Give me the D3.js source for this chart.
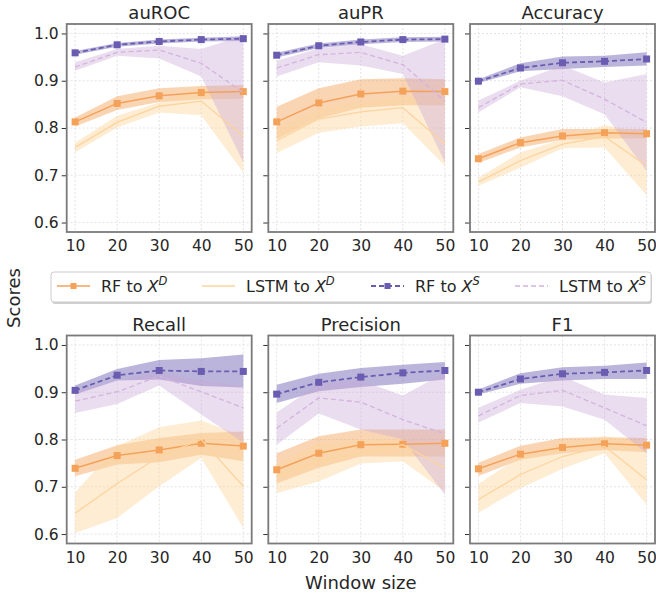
<!DOCTYPE html>
<html>
<head>
<meta charset="utf-8">
<script src="https://cdn.jsdelivr.net/npm/d3@7"></script>
<style>
  body { margin: 0; background: #fff; }
  svg { display: block; font-family: "DejaVu Sans", sans-serif; }
</style>
</head>
<body>
<svg id="chart" width="656" height="599"></svg>
<script>
const windows = [10, 20, 30, 40, 50];
const metrics = ["auROC", "auPR", "Accuracy", "Recall", "Precision", "F1"];
const yTicks = [0.6, 0.7, 0.8, 0.9, 1.0];

// RF to X^D
const rfD = [
  [0.813, 0.852, 0.868, 0.875, 0.877],
  [0.813, 0.853, 0.872, 0.878, 0.877],
  [0.735, 0.769, 0.783, 0.790, 0.788],
  [0.739, 0.766, 0.778, 0.792, 0.786],
  [0.736, 0.771, 0.789, 0.790, 0.792],
  [0.738, 0.769, 0.783, 0.791, 0.788]
];
const rfD_lo = [
  [0.803, 0.838, 0.855, 0.861, 0.862],
  [0.776, 0.820, 0.843, 0.848, 0.848],
  [0.726, 0.759, 0.775, 0.778, 0.778],
  [0.722, 0.747, 0.752, 0.768, 0.754],
  [0.707, 0.740, 0.764, 0.764, 0.764],
  [0.723, 0.757, 0.771, 0.778, 0.773]
];
const rfD_hi = [
  [0.822, 0.867, 0.884, 0.889, 0.891],
  [0.845, 0.884, 0.903, 0.905, 0.903],
  [0.745, 0.780, 0.798, 0.798, 0.798],
  [0.757, 0.788, 0.803, 0.814, 0.817],
  [0.771, 0.807, 0.821, 0.821, 0.821],
  [0.751, 0.787, 0.803, 0.805, 0.803]
];

// LSTM to X^D
const lstmD = [
  [0.759, 0.812, 0.846, 0.857, 0.783],
  [0.773, 0.819, 0.834, 0.843, 0.766],
  [0.686, 0.731, 0.766, 0.782, 0.720],
  [0.644, 0.707, 0.764, 0.800, 0.701],
  [0.722, 0.754, 0.771, 0.789, 0.740],
  [0.673, 0.726, 0.764, 0.786, 0.715]
];
const lstmD_lo = [
  [0.748, 0.801, 0.833, 0.827, 0.706],
  [0.747, 0.790, 0.803, 0.810, 0.720],
  [0.678, 0.716, 0.757, 0.759, 0.658],
  [0.602, 0.634, 0.701, 0.761, 0.613],
  [0.687, 0.711, 0.749, 0.754, 0.690],
  [0.645, 0.697, 0.738, 0.771, 0.662]
];
const lstmD_hi = [
  [0.769, 0.826, 0.854, 0.886, 0.860],
  [0.801, 0.841, 0.857, 0.869, 0.861],
  [0.695, 0.748, 0.776, 0.806, 0.790],
  [0.688, 0.786, 0.826, 0.840, 0.807],
  [0.747, 0.793, 0.800, 0.800, 0.789],
  [0.706, 0.764, 0.793, 0.807, 0.793]
];

// RF to X^S
const rfS = [
  [0.959, 0.976, 0.983, 0.987, 0.989],
  [0.954, 0.974, 0.982, 0.987, 0.988],
  [0.899, 0.927, 0.938, 0.941, 0.946],
  [0.904, 0.936, 0.946, 0.944, 0.944],
  [0.896, 0.921, 0.932, 0.941, 0.946],
  [0.900, 0.928, 0.939, 0.942, 0.946]
];
const rfS_lo = [
  [0.955, 0.972, 0.979, 0.983, 0.984],
  [0.949, 0.969, 0.977, 0.982, 0.983],
  [0.895, 0.920, 0.925, 0.929, 0.932],
  [0.895, 0.925, 0.927, 0.913, 0.910],
  [0.877, 0.902, 0.911, 0.918, 0.927],
  [0.895, 0.918, 0.925, 0.928, 0.928]
];
const rfS_hi = [
  [0.963, 0.980, 0.987, 0.991, 0.994],
  [0.959, 0.979, 0.987, 0.992, 0.993],
  [0.903, 0.937, 0.951, 0.953, 0.960],
  [0.914, 0.949, 0.968, 0.972, 0.980],
  [0.916, 0.939, 0.951, 0.958, 0.964],
  [0.906, 0.940, 0.953, 0.956, 0.963]
];

// LSTM to X^S
const lstmS = [
  [0.929, 0.960, 0.965, 0.937, 0.875],
  [0.927, 0.955, 0.960, 0.934, 0.857],
  [0.843, 0.893, 0.901, 0.861, 0.812],
  [0.881, 0.901, 0.934, 0.901, 0.867],
  [0.824, 0.888, 0.879, 0.842, 0.812],
  [0.850, 0.893, 0.904, 0.867, 0.829]
];
const lstmS_lo = [
  [0.921, 0.953, 0.947, 0.909, 0.727],
  [0.909, 0.939, 0.932, 0.914, 0.727],
  [0.833, 0.886, 0.867, 0.829, 0.709],
  [0.856, 0.875, 0.914, 0.853, 0.793],
  [0.789, 0.855, 0.821, 0.800, 0.683],
  [0.836, 0.877, 0.870, 0.842, 0.771]
];
const lstmS_hi = [
  [0.939, 0.967, 0.974, 0.967, 0.995],
  [0.942, 0.968, 0.977, 0.953, 0.988],
  [0.858, 0.900, 0.932, 0.896, 0.914],
  [0.902, 0.925, 0.942, 0.925, 0.913],
  [0.857, 0.918, 0.925, 0.893, 0.941],
  [0.867, 0.905, 0.934, 0.895, 0.888]
];

const series = [
  { name: "RF to ", sup: "D", mean: rfD, lo: rfD_lo, hi: rfD_hi, color: "#f4a259", band: "#f4a259", bandOp: 0.45, width: 1.5, dash: null, marker: true },
  { name: "LSTM to ", sup: "D", mean: lstmD, lo: lstmD_lo, hi: lstmD_hi, color: "#fdd49e", band: "#fdd49e", bandOp: 0.45, width: 1.3, dash: null, marker: false },
  { name: "RF to ", sup: "S", mean: rfS, lo: rfS_lo, hi: rfS_hi, color: "#6a5cb0", band: "#6a5cb0", bandOp: 0.45, width: 1.8, dash: "5,3", marker: true },
  { name: "LSTM to ", sup: "S", mean: lstmS, lo: lstmS_lo, hi: lstmS_hi, color: "#d4b3de", band: "#c8a6d6", bandOp: 0.38, width: 1.3, dash: "5,3", marker: false }
];

const colX = [66.7, 268.3, 470], rowY = [24, 335.5];
const pw = 185, ph = 208;
const textColor = "#262626";

const svg = d3.select("#chart");
const x = d3.scaleLinear().domain([8, 52]).range([0, pw]);
const y = d3.scaleLinear().domain([0.58, 1.02]).range([ph, 0]);

metrics.forEach((m, mi) => {
  const col = mi % 3, row = Math.floor(mi / 3);
  const g = svg.append("g").attr("transform", `translate(${colX[col]},${rowY[row]})`);

  // grid
  g.selectAll(".vg").data(windows).enter().append("line")
    .attr("x1", d => x(d)).attr("x2", d => x(d)).attr("y1", 0).attr("y2", ph)
    .attr("stroke", "#dcdcdc").attr("stroke-width", 0.8).attr("stroke-dasharray", "2,2");
  g.selectAll(".hg").data(yTicks).enter().append("line")
    .attr("x1", 0).attr("x2", pw).attr("y1", d => y(d)).attr("y2", d => y(d))
    .attr("stroke", "#dcdcdc").attr("stroke-width", 0.8).attr("stroke-dasharray", "2,2");

  // bands
  series.forEach(s => {
    const pts = windows.map((w, i) => ({ w, lo: s.lo[mi][i], hi: s.hi[mi][i] }));
    g.append("path").datum(pts)
      .attr("d", d3.area().x(d => x(d.w)).y0(d => y(d.lo)).y1(d => y(d.hi)))
      .attr("fill", s.band).attr("fill-opacity", s.bandOp);
  });

  // lines and markers
  series.forEach(s => {
    const pts = windows.map((w, i) => ({ w, v: s.mean[mi][i] }));
    g.append("path").datum(pts)
      .attr("d", d3.line().x(d => x(d.w)).y(d => y(d.v)))
      .attr("fill", "none").attr("stroke", s.color).attr("stroke-width", s.width)
      .attr("stroke-dasharray", s.dash);
    if (s.marker) {
      g.selectAll(null).data(pts).enter().append("rect")
        .attr("x", d => x(d.w) - 3.5).attr("y", d => y(d.v) - 3.5)
        .attr("width", 7).attr("height", 7).attr("fill", s.color);
    }
  });

  // axes
  const yAxis = d3.axisLeft(y).tickValues(yTicks).tickSize(5).tickPadding(3)
    .tickFormat(col === 0 ? d3.format(".1f") : () => "");
  const ya = g.append("g").call(yAxis);
  ya.select(".domain").remove();
  ya.selectAll("line").attr("stroke", "#333");
  ya.selectAll("text").attr("font-size", 15.5).attr("fill", textColor)
    .attr("font-family", "DejaVu Sans");

  const xAxis = d3.axisBottom(x).tickValues(windows).tickSize(0).tickPadding(8);
  const xa = g.append("g").attr("transform", `translate(0,${ph})`).call(xAxis);
  xa.select(".domain").remove();
  xa.selectAll("text").attr("font-size", 15.5).attr("fill", textColor)
    .attr("font-family", "DejaVu Sans");

  // frame
  g.append("rect").attr("width", pw).attr("height", ph)
    .attr("fill", "none").attr("stroke", "#7a7a7a").attr("stroke-width", 1.8);

  g.append("text").attr("x", pw / 2).attr("y", -5).attr("text-anchor", "middle")
    .attr("font-size", 18).attr("fill", textColor).text(m);
});

// axis labels
svg.append("text").attr("transform", "translate(20,298) rotate(-90)")
  .attr("text-anchor", "middle").attr("font-size", 18).attr("fill", textColor).text("Scores");
svg.append("text").attr("x", (colX[0] + colX[2] + pw) / 2).attr("y", 589)
  .attr("text-anchor", "middle").attr("font-size", 18).attr("fill", textColor).text("Window size");

// legend
const leg = svg.append("g");
leg.append("rect").attr("x", 52).attr("y", 274).attr("width", 600).attr("height", 30)
  .attr("rx", 3).attr("fill", "#d0d0d0");
leg.append("rect").attr("x", 51).attr("y", 272).attr("width", 600).attr("height", 30)
  .attr("rx", 3).attr("fill", "#fff").attr("stroke", "#cccccc").attr("stroke-width", 1);

const legX = [57, 202, 371, 515];
series.forEach((s, i) => {
  const lg = leg.append("g").attr("transform", `translate(${legX[i]},286)`);
  lg.append("line").attr("x1", 0).attr("x2", 33).attr("stroke", s.color)
    .attr("stroke-width", s.width).attr("stroke-dasharray", s.dash);
  if (s.marker) {
    lg.append("rect").attr("x", 13.5).attr("y", -3).attr("width", 6).attr("height", 6).attr("fill", s.color);
  }
  const t = lg.append("text").attr("x", 44).attr("y", 6).attr("font-size", 16).attr("fill", textColor);
  t.append("tspan").text(s.name);
  t.append("tspan").attr("font-style", "italic").text("X");
  t.append("tspan").attr("font-style", "italic").attr("font-size", 11.5).attr("dy", -7).text(s.sup);
});
</script>
</body>
</html>
